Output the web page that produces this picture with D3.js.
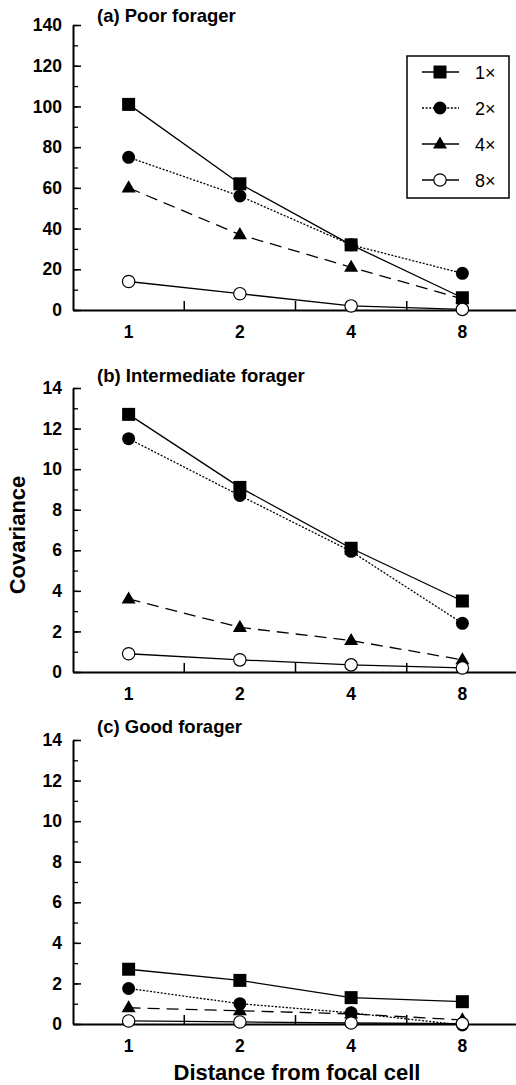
<!DOCTYPE html>
<html>
<head>
<meta charset="utf-8">
<script src="https://cdn.jsdelivr.net/npm/d3@7"></script>
<style>
  body { margin: 0; background: #fff; }
  svg { display: block; font-family: "Liberation Sans", Arial, sans-serif; }
</style>
</head>
<body>
<div id="chart"></div>
<script>
const distances = ["1", "2", "4", "8"]
const seriesNames = ["1×", "2×", "4×", "8×"]

// panel (a) Poor forager
const poor1x = [101, 62, 32, 6]
const poor2x = [75, 56, 32, 18]
const poor4x = [60, 37, 21, 5.5]
const poor8x = [14, 8, 2, 0.3]

// panel (b) Intermediate forager
const inter1x = [12.7, 9.1, 6.1, 3.5]
const inter2x = [11.5, 8.7, 5.95, 2.4]
const inter4x = [3.6, 2.2, 1.55, 0.6]
const inter8x = [0.9, 0.6, 0.35, 0.2]

// panel (c) Good forager
const good1x = [2.7, 2.15, 1.3, 1.1]
const good2x = [1.75, 1.0, 0.55, -0.05]
const good4x = [0.8, 0.65, 0.5, 0.2]
const good8x = [0.15, 0.1, 0.05, 0.02]

const poorTicks = [0, 20, 40, 60, 80, 100, 120, 140]
const smallTicks = [0, 2, 4, 6, 8, 10, 12, 14]

const panels = [
  { title: "(a) Poor forager", series: [poor1x, poor2x, poor4x, poor8x], max: 140, ticks: poorTicks, minor: 10, top: 25, bottom: 310, titleY: 22, legend: true },
  { title: "(b) Intermediate forager", series: [inter1x, inter2x, inter4x, inter8x], max: 14, ticks: smallTicks, minor: 1, top: 388, bottom: 672, titleY: 382 },
  { title: "(c) Good forager", series: [good1x, good2x, good4x, good8x], max: 14, ticks: smallTicks, minor: 1, top: 740, bottom: 1024, titleY: 733 },
]

const styles = [
  { dash: null, legendDash: null, marker: "square" },
  { dash: "2,1.6", legendDash: "2,1.6", marker: "circle" },
  { dash: "12,7", legendDash: null, marker: "triangle" },
  { dash: null, legendDash: null, marker: "open" },
]

const width = 516
const height = 1085
const left = 73

const svg = d3.select("#chart")
  .append("svg")
    .attr("width", width)
    .attr("height", height)

const xScale = d3.scaleBand()
  .domain(distances)
  .range([left, 518])
  .paddingInner(0)
  .paddingOuter(0)
const xCenter = d => xScale(d) + xScale.bandwidth() / 2

const drawMarker = (g, type, x, y) => {
  if (type === "square") {
    g.append("rect")
      .attr("x", x - 6.5).attr("y", y - 6.5)
      .attr("width", 13).attr("height", 13)
      .attr("fill", "#000")
  } else if (type === "circle") {
    g.append("circle")
      .attr("cx", x).attr("cy", y).attr("r", 6.5)
      .attr("fill", "#000")
  } else if (type === "triangle") {
    g.append("path")
      .attr("d", d3.symbol().type(d3.symbolTriangle).size(85)())
      .attr("transform", `translate(${x},${y + 0.5})`)
      .attr("fill", "#000")
  } else {
    g.append("circle")
      .attr("cx", x).attr("cy", y).attr("r", 6.2)
      .attr("fill", "#fff")
      .attr("stroke", "#000")
      .attr("stroke-width", 1.2)
  }
}

panels.forEach(p => {
  const yScale = d3.scaleLinear()
    .domain([0, p.max])
    .range([p.bottom, p.top])

  const g = svg.append("g")

  // minor y ticks
  g.append("g")
    .attr("transform", `translate(${left},0)`)
    .call(d3.axisLeft(yScale)
      .tickValues(d3.range(0, p.max + 0.001, p.minor))
      .tickSizeInner(-5)
      .tickSizeOuter(0)
      .tickFormat(""))
    .call(a => a.select(".domain").remove())
    .selectAll("line").attr("stroke-width", 1.3)

  // major y ticks with labels
  const yAxis = g.append("g")
    .attr("transform", `translate(${left},0)`)
    .call(d3.axisLeft(yScale)
      .tickValues(p.ticks)
      .tickSizeInner(-8)
      .tickSizeOuter(0)
      .tickPadding(11))
  yAxis.select(".domain").attr("stroke-width", 2)
  yAxis.selectAll("line").attr("stroke-width", 1.5)
  yAxis.selectAll("text")
    .attr("font-size", 17.5)
    .attr("font-weight", "bold")
    .attr("font-family", "Liberation Sans, Arial, sans-serif")
    .attr("fill", "#000")

  // x axis
  const xAxis = g.append("g")
    .attr("transform", `translate(0,${p.bottom})`)
    .call(d3.axisBottom(xScale)
      .tickSize(0)
      .tickPadding(16))
  xAxis.select(".domain").attr("stroke-width", 2)
  xAxis.selectAll("text")
    .attr("font-size", 17.5)
    .attr("font-weight", "bold")
    .attr("font-family", "Liberation Sans, Arial, sans-serif")
    .attr("fill", "#000")

  // x ticks between categories
  g.append("g")
    .selectAll("line")
    .data(distances.slice(0, -1))
    .join("line")
      .attr("x1", d => xScale(d) + xScale.bandwidth())
      .attr("x2", d => xScale(d) + xScale.bandwidth())
      .attr("y1", p.bottom)
      .attr("y2", p.bottom - 9)
      .attr("stroke", "#000")
      .attr("stroke-width", 1.5)

  // title
  g.append("text")
    .attr("x", 97)
    .attr("y", p.titleY)
    .attr("font-size", 18.5)
    .attr("font-weight", "bold")
    .text(p.title)

  const line = d3.line()
    .x((d, i) => xCenter(distances[i]))
    .y(d => yScale(d))

  // lines
  p.series.forEach((s, k) => {
    g.append("path")
      .datum(s)
      .attr("fill", "none")
      .attr("stroke", "#000")
      .attr("stroke-width", 1.3)
      .attr("stroke-dasharray", styles[k].dash)
      .attr("d", line)
  })

  // markers
  p.series.forEach((s, k) => {
    s.forEach((v, i) => drawMarker(g, styles[k].marker, xCenter(distances[i]), yScale(v)))
  })

  if (p.legend) {
    const lg = g.append("g")
    lg.append("rect")
      .attr("x", 407).attr("y", 56)
      .attr("width", 102).attr("height", 142)
      .attr("fill", "#fff")
      .attr("stroke", "#000")
      .attr("stroke-width", 1.5)
    seriesNames.forEach((name, k) => {
      const y = 72 + k * 36
      lg.append("line")
        .attr("x1", 422).attr("x2", 459)
        .attr("y1", y).attr("y2", y)
        .attr("stroke", "#000")
        .attr("stroke-width", 1.3)
        .attr("stroke-dasharray", styles[k].legendDash)
      drawMarker(lg, styles[k].marker, 440, y)
      lg.append("text")
        .attr("x", 475)
        .attr("y", y + 6.5)
        .attr("font-size", 18)
        .text(name)
    })
  }
})

// axis titles
svg.append("text")
  .attr("transform", "translate(25,535) rotate(-90)")
  .attr("text-anchor", "middle")
  .attr("font-size", 22)
  .attr("font-weight", "bold")
  .text("Covariance")

svg.append("text")
  .attr("x", 297)
  .attr("y", 1080)
  .attr("text-anchor", "middle")
  .attr("font-size", 22)
  .attr("font-weight", "bold")
  .text("Distance from focal cell")
</script>
</body>
</html>
